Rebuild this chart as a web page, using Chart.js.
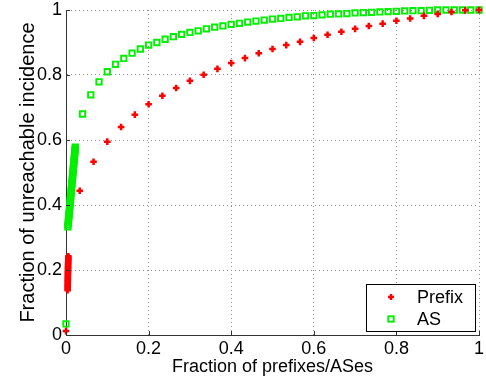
<!DOCTYPE html>
<html>
<head>
<meta charset="utf-8">
<script src="https://cdn.jsdelivr.net/npm/chart.js@4.4.1/dist/chart.umd.min.js"></script>
<style>
  html, body { margin: 0; padding: 0; background: #fff; }
  canvas { display: block; }
</style>
</head>
<body>
<canvas id="chart" width="486" height="382"></canvas>
<script>
// Prefix: dense run near x=0, then one point every 1/30
const prefixX = [0.0,
    0.0040, 0.0040, 0.0041, 0.0041, 0.0042, 0.0042, 0.0043, 0.0043, 0.0044, 0.0044,
    0.0045, 0.0045, 0.0046, 0.0047, 0.0047, 0.0048, 0.0049, 0.0050, 0.0050, 0.0051,
    0.0052, 0.0053, 0.0054, 0.0055, 0.0056, 0.0057, 0.0058,
    0.0333, 0.0667, 0.1000, 0.1333, 0.1667, 0.2000, 0.2333, 0.2667, 0.3000, 0.3333,
    0.3667, 0.4000, 0.4333, 0.4667, 0.5000, 0.5333, 0.5667, 0.6000, 0.6333, 0.6667,
    0.7000, 0.7333, 0.7667, 0.8000, 0.8333, 0.8667, 0.9000, 0.9333, 0.9667, 1.0000];
const prefixY = [0.012,
    0.138, 0.142, 0.146, 0.150, 0.154, 0.158, 0.162, 0.166, 0.170, 0.174,
    0.178, 0.182, 0.186, 0.190, 0.194, 0.198, 0.202, 0.206, 0.210, 0.214,
    0.218, 0.222, 0.226, 0.230, 0.234, 0.238, 0.242,
    0.444, 0.533, 0.595, 0.640, 0.678, 0.710, 0.736, 0.760, 0.782, 0.801,
    0.819, 0.837, 0.852, 0.867, 0.880, 0.892, 0.902, 0.914, 0.924, 0.933,
    0.942, 0.951, 0.958, 0.967, 0.974, 0.982, 0.988, 0.994, 0.999, 1.000];

// AS: dense run near x=0, then one point every 0.02
const asX = [0.0,
    0.0045, 0.0049, 0.0054, 0.0058, 0.0063, 0.0067, 0.0071, 0.0076, 0.0080, 0.0085,
    0.0089, 0.0094, 0.0098, 0.0102, 0.0107, 0.0111, 0.0116, 0.0120, 0.0124, 0.0129,
    0.0133, 0.0138, 0.0142, 0.0146, 0.0151, 0.0155, 0.0160, 0.0164, 0.0168, 0.0173,
    0.0177, 0.0182, 0.0186, 0.0190, 0.0195, 0.0199, 0.0204, 0.0208, 0.0212, 0.0217,
    0.0221, 0.0225,
    0.04, 0.06, 0.08, 0.10, 0.12, 0.14, 0.16, 0.18, 0.20, 0.22, 0.24, 0.26, 0.28, 0.30,
    0.32, 0.34, 0.36, 0.38, 0.40, 0.42, 0.44, 0.46, 0.48, 0.50, 0.52, 0.54, 0.56, 0.58,
    0.60, 0.62, 0.64, 0.66, 0.68, 0.70, 0.72, 0.74, 0.76, 0.78, 0.80, 0.82, 0.84, 0.86,
    0.88, 0.90, 0.92, 0.94, 0.96, 0.98, 1.00];
const asY = [0.034,
    0.333, 0.339, 0.345, 0.351, 0.357, 0.363, 0.369, 0.375, 0.381, 0.387,
    0.393, 0.399, 0.405, 0.411, 0.417, 0.423, 0.429, 0.435, 0.441, 0.447,
    0.453, 0.459, 0.465, 0.471, 0.477, 0.483, 0.489, 0.495, 0.501, 0.507,
    0.513, 0.519, 0.525, 0.531, 0.537, 0.543, 0.549, 0.555, 0.561, 0.567,
    0.573, 0.578,
    0.680, 0.739, 0.779, 0.810, 0.833, 0.851, 0.867, 0.880, 0.892, 0.900, 0.910, 0.918, 0.925, 0.931,
    0.936, 0.942, 0.947, 0.951, 0.956, 0.959, 0.963, 0.966, 0.969, 0.972, 0.974, 0.977, 0.979, 0.982,
    0.983, 0.985, 0.987, 0.988, 0.989, 0.991, 0.992, 0.993, 0.994, 0.995, 0.996, 0.997, 0.998, 0.998,
    0.999, 1.000, 1.000, 1.000, 1.000, 1.000, 1.000];

const tickValues = [0, 0.2, 0.4, 0.6, 0.8, 1];

const FONT = "'Liberation Sans', Arial, Helvetica, sans-serif";
const RED = "#ff0000";
const GREEN = "#00f000";

function toPoints(xs, ys) {
    return xs.map((x, i) => ({ x: x, y: ys[i] }));
}

// matlab style ticks pointing into the plot
const innerTicks = {
    id: "innerTicks",
    afterDraw(chart) {
        const ctx = chart.ctx;
        const xs = chart.scales.x, ys = chart.scales.y;
        const a = chart.chartArea;
        ctx.save();
        ctx.strokeStyle = "#333";
        ctx.lineWidth = 1;
        ctx.beginPath();
        tickValues.forEach(v => {
            const px = Math.round(xs.getPixelForValue(v)) + 0.5;
            ctx.moveTo(px, a.bottom);
            ctx.lineTo(px, a.bottom - 4);
            const py = Math.round(ys.getPixelForValue(v)) + 0.5;
            ctx.moveTo(a.left, py);
            ctx.lineTo(a.left + 4, py);
        });
        ctx.stroke();
        ctx.restore();
    }
};

// legend box inside the lower right corner
const boxLegend = {
    id: "boxLegend",
    afterDraw(chart) {
        const ctx = chart.ctx;
        const a = chart.chartArea;
        const w = 109, h = 47;
        const x0 = Math.round(a.right - 4 - w), y0 = Math.round(a.bottom - 4 - h);
        ctx.save();
        ctx.fillStyle = "#fff";
        ctx.fillRect(x0, y0, w, h);
        ctx.strokeStyle = "#000";
        ctx.lineWidth = 1;
        ctx.strokeRect(x0 + 0.5, y0 + 0.5, w, h);
        ctx.font = "18px " + FONT;
        ctx.textBaseline = "middle";
        chart.data.datasets.forEach((ds, i) => {
            const cy = y0 + 13 + i * 22;
            const mx = x0 + 25;
            ctx.strokeStyle = ds.borderColor;
            ctx.lineWidth = ds.borderWidth;
            if (ds.pointStyle === "cross") {
                ctx.beginPath();
                ctx.moveTo(mx - 3, cy); ctx.lineTo(mx + 3, cy);
                ctx.moveTo(mx, cy - 3); ctx.lineTo(mx, cy + 3);
                ctx.stroke();
            } else {
                ctx.strokeRect(mx - 2.7, cy - 2.7, 5.4, 5.4);
            }
            ctx.fillStyle = "#000";
            ctx.fillText(ds.label, x0 + 51, cy + 1);
        });
        ctx.restore();
    }
};

const ctx = document.getElementById("chart").getContext("2d");

new Chart(ctx, {
    type: "scatter",
    data: {
        datasets: [{
            label: "Prefix",
            data: toPoints(prefixX, prefixY),
            pointStyle: "cross",
            pointRadius: 3.3,
            borderColor: RED,
            borderWidth: 2.5,
            clip: false
        }, {
            label: "AS",
            data: toPoints(asX, asY),
            pointStyle: "rect",
            pointRadius: 3.8,
            borderColor: GREEN,
            backgroundColor: "rgba(0,0,0,0)",
            borderWidth: 1.9,
            clip: false
        }]
    },
    options: {
        responsive: false,
        animation: false,
        devicePixelRatio: 1,
        layout: { padding: { left: 0, right: 7, top: 10, bottom: 0 } },
        plugins: {
            legend: { display: false },
            tooltip: { enabled: false }
        },
        scales: {
            x: {
                type: "linear",
                min: 0,
                max: 1,
                afterFit: s => { s.height = 47; s.paddingLeft = 0; s.paddingRight = 0; },
                afterBuildTicks: s => { s.ticks = tickValues.map(v => ({ value: v })); },
                ticks: {
                    color: "#000",
                    padding: 3,
                    maxRotation: 0,
                    font: { family: FONT, size: 18 },
                    callback: v => String(v)
                },
                grid: {
                    color: "#909090",
                    drawTicks: false
                },
                border: { display: true, color: "#333", width: 1, dash: [1, 3] },
                title: {
                    display: true,
                    text: "Fraction of prefixes/ASes",
                    color: "#000",
                    font: { family: FONT, size: 18 },
                    padding: { top: 0, bottom: 4 }
                }
            },
            y: {
                type: "linear",
                min: 0,
                max: 1,
                afterFit: s => { s.width = 66; s.paddingTop = 0; s.paddingBottom = 0; },
                afterBuildTicks: s => { s.ticks = tickValues.map(v => ({ value: v })); },
                ticks: {
                    color: "#000",
                    padding: 4,
                    font: { family: FONT, size: 18 },
                    callback: v => String(v)
                },
                grid: {
                    color: "#909090",
                    drawTicks: false
                },
                border: { display: true, color: "#333", width: 1, dash: [1, 3] },
                title: {
                    display: true,
                    text: "Fraction of unreachable incidence",
                    color: "#000",
                    font: { family: FONT, size: 20 },
                    padding: { top: 16, bottom: 0 }
                }
            }
        }
    },
    plugins: [innerTicks, boxLegend]
});
</script>
</body>
</html>
